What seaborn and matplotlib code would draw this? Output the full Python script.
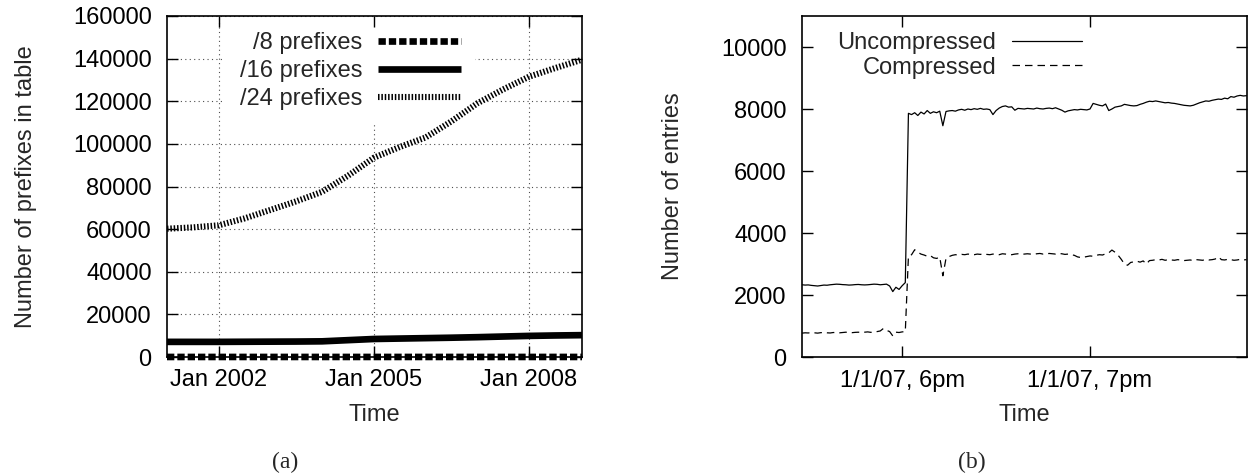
import numpy as np
import pandas as pd
import matplotlib
matplotlib.use("Agg")
import matplotlib.pyplot as plt
import matplotlib.dates as mdates
import seaborn as sns

# ---------------- data: panel (a) ----------------
prefix_dates = ["2001-01-01", "2001-07-01", "2002-01-01", "2002-07-01", "2003-01-01",
                "2003-07-01", "2004-01-01", "2004-07-01", "2005-01-01", "2005-07-01",
                "2006-01-01", "2006-07-01", "2007-01-01", "2007-07-01", "2008-01-01",
                "2008-07-01", "2009-01-10"]
prefix8 = [18, 18, 18, 18, 18, 18, 18, 19, 19, 19, 19, 19, 19, 19, 19, 19, 19]
prefix16 = [7100, 7100, 7100, 7150, 7200, 7250, 7350, 7900, 8450, 8650,
            8850, 9050, 9300, 9600, 9900, 10100, 10250]
prefix24 = [60200, 60800, 61800, 65000, 69000, 73000, 77500, 85000, 93500, 98500,
            103000, 110500, 119000, 125500, 131500, 135500, 139500]
a_labels = ["/8 prefixes", "/16 prefixes", "/24 prefixes"]
a_xticks = ["2002-01-01", "2005-01-01", "2008-01-01"]
a_yticks = [0, 20000, 40000, 60000, 80000, 100000, 120000, 140000, 160000]

# ---------------- data: panel (b) ----------------
b_start = "2007-01-01 17:28"
uncompressed = [
    2330, 2320, 2325, 2310, 2300, 2290, 2305, 2320, 2315, 2330,
    2340, 2350, 2345, 2335, 2330, 2320, 2325, 2335, 2340, 2330,
    2325, 2330, 2340, 2350, 2345, 2330, 2340, 2350, 2290, 2110,
    2250, 2180, 2300, 2400, 7860, 7820, 7880, 7790, 7900, 7840,
    7950, 7860, 7910, 7880, 7930, 7460, 7920, 7940, 7950, 7930,
    7970, 7990, 7960, 8000, 7980, 8010, 7990, 8020, 7990, 8000,
    7980, 7820, 7950, 8030, 8080, 8100, 8060, 8070, 7960, 8020,
    8010, 8000, 8020, 8010, 8000, 8030, 8010, 8000, 8020, 8030,
    8010, 8040, 8000, 7960, 7900, 7940, 7960, 7980, 7970, 7990,
    7980, 7970, 8000, 8180, 8150, 8120, 8100, 8160, 7950, 8000,
    8060, 8080, 8100, 8150, 8130, 8110, 8100, 8110, 8150, 8180,
    8220, 8250, 8240, 8260, 8240, 8220, 8200, 8210, 8190, 8180,
    8160, 8140, 8120, 8110, 8100, 8120, 8160, 8200, 8230, 8260,
    8250, 8280, 8300, 8320, 8310, 8350, 8330, 8400, 8380, 8420,
    8440, 8420, 8430]
compressed = [
    770, 780, 775, 790, 780, 770, 785, 790, 780, 775,
    790, 785, 780, 790, 800, 790, 785, 795, 800, 790,
    800, 810, 795, 805, 820, 840, 920, 860, 820, 680,
    800, 790, 810, 820, 3250, 3300, 3460, 3380, 3320, 3290,
    3250, 3270, 3200, 3180, 3220, 2620, 3180, 3240, 3280, 3300,
    3290, 3310, 3300, 3320, 3310, 3300, 3320, 3310, 3330, 3310,
    3300, 3320, 3310, 3300, 3330, 3320, 3310, 3300, 3320, 3330,
    3310, 3320, 3330, 3320, 3310, 3330, 3340, 3320, 3330, 3340,
    3330, 3320, 3340, 3330, 3310, 3320, 3300, 3280, 3230, 3210,
    3220, 3240, 3260, 3250, 3280, 3300, 3290, 3330, 3360, 3450,
    3380, 3280, 3150, 3000, 2960, 3050, 3070, 3090, 3060, 3100,
    3000, 3110, 3120, 3140, 3130, 3150, 3120, 3140, 3130, 3120,
    3140, 3130, 3110, 3120, 3130, 3110, 3140, 3130, 3120, 3150,
    3130, 3140, 3160, 3230, 3140, 3130, 3150, 3140, 3120, 3130,
    3150, 3130, 3140]
b_labels = ["Uncompressed", "Compressed"]
b_xticks = ["2007-01-01 18:00", "2007-01-01 19:00"]
b_xticklabels = ["1/1/07, 6pm", "1/1/07, 7pm"]
b_yticks = [0, 2000, 4000, 6000, 8000, 10000]

# ---------------- style ----------------
sns.set_theme(style="white")
plt.rcParams["font.family"] = ["Liberation Sans", "DejaVu Sans"]
plt.rcParams["axes.edgecolor"] = "black"
plt.rcParams["axes.linewidth"] = 1.2
FS = 17

W, H = 1248, 476
fig = plt.figure(figsize=(W / 100, H / 100), dpi=100)
rectA = [167 / W, 1 - 357 / H, 415 / W, 341 / H]
rectB = [802 / W, 1 - 357 / H, 444.5 / W, 341 / H]


def style_ticks(ax):
    ax.tick_params(axis="both", which="major", direction="in", length=8, width=1.0,
                   top=True, right=True, bottom=True, left=True, colors="black",
                   labelsize=FS)
    ax.tick_params(axis="x", pad=9)
    ax.tick_params(axis="y", pad=11)
    for s in ax.spines.values():
        s.set_visible(True)
        s.set_color("black")
        s.set_linewidth(1.2)


# ---------------- panel (a) ----------------
axG = fig.add_axes(rectA)                      # underlay: grid + legend background
axA = fig.add_axes(rectA, sharex=axG, sharey=axG)
axG.set_zorder(0)
axA.set_zorder(1)
axA.patch.set_alpha(0)
axG.set_facecolor("white")

dfa = pd.DataFrame({"date": pd.to_datetime(prefix_dates),
                    "p8": prefix8, "p16": prefix16, "p24": prefix24})

sns.lineplot(data=dfa, x="date", y="p24", ax=axA, color="black", linewidth=4.4,
             estimator=None, sort=False, label=a_labels[2])
sns.lineplot(data=dfa, x="date", y="p16", ax=axA, color="black", linewidth=4.8,
             estimator=None, sort=False, label=a_labels[1])
sns.lineplot(data=dfa, x="date", y="p8", ax=axA, color="black", linewidth=4.8,
             estimator=None, sort=False, label=a_labels[0])
l24, l16, l8 = axA.lines[-3:]
l24.set_linestyle((0, (0.25, 0.3)))
l24.set_dash_capstyle("butt")
l16.set_solid_capstyle("butt")
l8.set_linestyle((0, (1.1, 0.45)))
l8.set_dash_capstyle("butt")
l8.set_clip_on(False)

axA.set_xlim(mdates.date2num(pd.to_datetime(prefix_dates[0])),
             mdates.date2num(pd.to_datetime(prefix_dates[-1])))
axA.set_ylim(a_yticks[0], a_yticks[-1])
axA.set_xticks(mdates.date2num(pd.to_datetime(a_xticks)))
axA.xaxis.set_major_formatter(mdates.DateFormatter("%b %Y"))
axA.set_yticks(a_yticks)
axA.set_yticklabels([str(v) for v in a_yticks])
style_ticks(axA)
axA.set_xlabel("Time", fontsize=FS)
axA.set_ylabel("Number of prefixes in table", fontsize=FS)
axA.xaxis.set_label_coords(0.5, -0.139)
axA.yaxis.set_label_coords(-0.313, 0.5)

axG.tick_params(axis="both", length=0, labelbottom=False, labelleft=False,
                labeltop=False, labelright=False)
for s in axG.spines.values():
    s.set_visible(False)
axG.grid(True, which="major", linestyle=(0, (1, 3)), linewidth=0.8, color="0.3")
axG.set_xlabel("")
axG.set_ylabel("")

if axA.get_legend() is not None:
    axA.get_legend().remove()
handles = [l8, l16, l24]
legA = axG.legend(handles, a_labels, loc="upper right", bbox_to_anchor=(0.742, 0.994),
                  borderaxespad=0, borderpad=0.6, fontsize=FS, handlelength=3.5,
                  handletextpad=0.68, labelspacing=0.25, markerfirst=False,
                  frameon=True, fancybox=False, framealpha=1.0,
                  facecolor="white", edgecolor="white")
legA.get_frame().set_linewidth(0)

# ---------------- panel (b) ----------------
axB = fig.add_axes(rectB)
times = pd.date_range(b_start, periods=len(uncompressed), freq="min")
dfb = pd.DataFrame({"time": times, "unc": uncompressed, "comp": compressed})
sns.lineplot(data=dfb, x="time", y="unc", ax=axB, color="black", linewidth=0.9,
             estimator=None, sort=False, label=b_labels[0])
sns.lineplot(data=dfb, x="time", y="comp", ax=axB, color="black", linewidth=0.9,
             estimator=None, sort=False, label=b_labels[1])
lu, lc = axB.lines[-2:]
lc.set_linestyle((0, (6, 4)))

axB.set_xlim(mdates.date2num(times[0]), mdates.date2num(times[-1]))
axB.set_ylim(0, 11000)
axB.set_xticks(mdates.date2num(pd.to_datetime(b_xticks)))
axB.set_xticklabels(b_xticklabels)
axB.set_yticks(b_yticks)
axB.set_yticklabels([str(v) for v in b_yticks])
style_ticks(axB)
axB.grid(False)
axB.set_xlabel("Time", fontsize=FS)
axB.set_ylabel("Number of entries", fontsize=FS)
axB.xaxis.set_label_coords(0.5, -0.139)
axB.yaxis.set_label_coords(-0.265, 0.5)
if axB.get_legend() is not None:
    axB.get_legend().remove()
axB.legend([lu, lc], b_labels, loc="upper right", bbox_to_anchor=(0.652, 0.980),
           borderaxespad=0, borderpad=0.4, fontsize=FS, handlelength=2.97,
           handletextpad=0.68, labelspacing=0.1, markerfirst=False, frameon=False)

# ---------------- captions ----------------
fig.text(285 / W, 1 - 462 / H, "(a)", ha="center", va="center", fontsize=17,
         family=["Liberation Serif", "DejaVu Serif"])
fig.text(972 / W, 1 - 462 / H, "(b)", ha="center", va="center", fontsize=17,
         family=["Liberation Serif", "DejaVu Serif"])

fig.savefig("out.png", dpi=100)
